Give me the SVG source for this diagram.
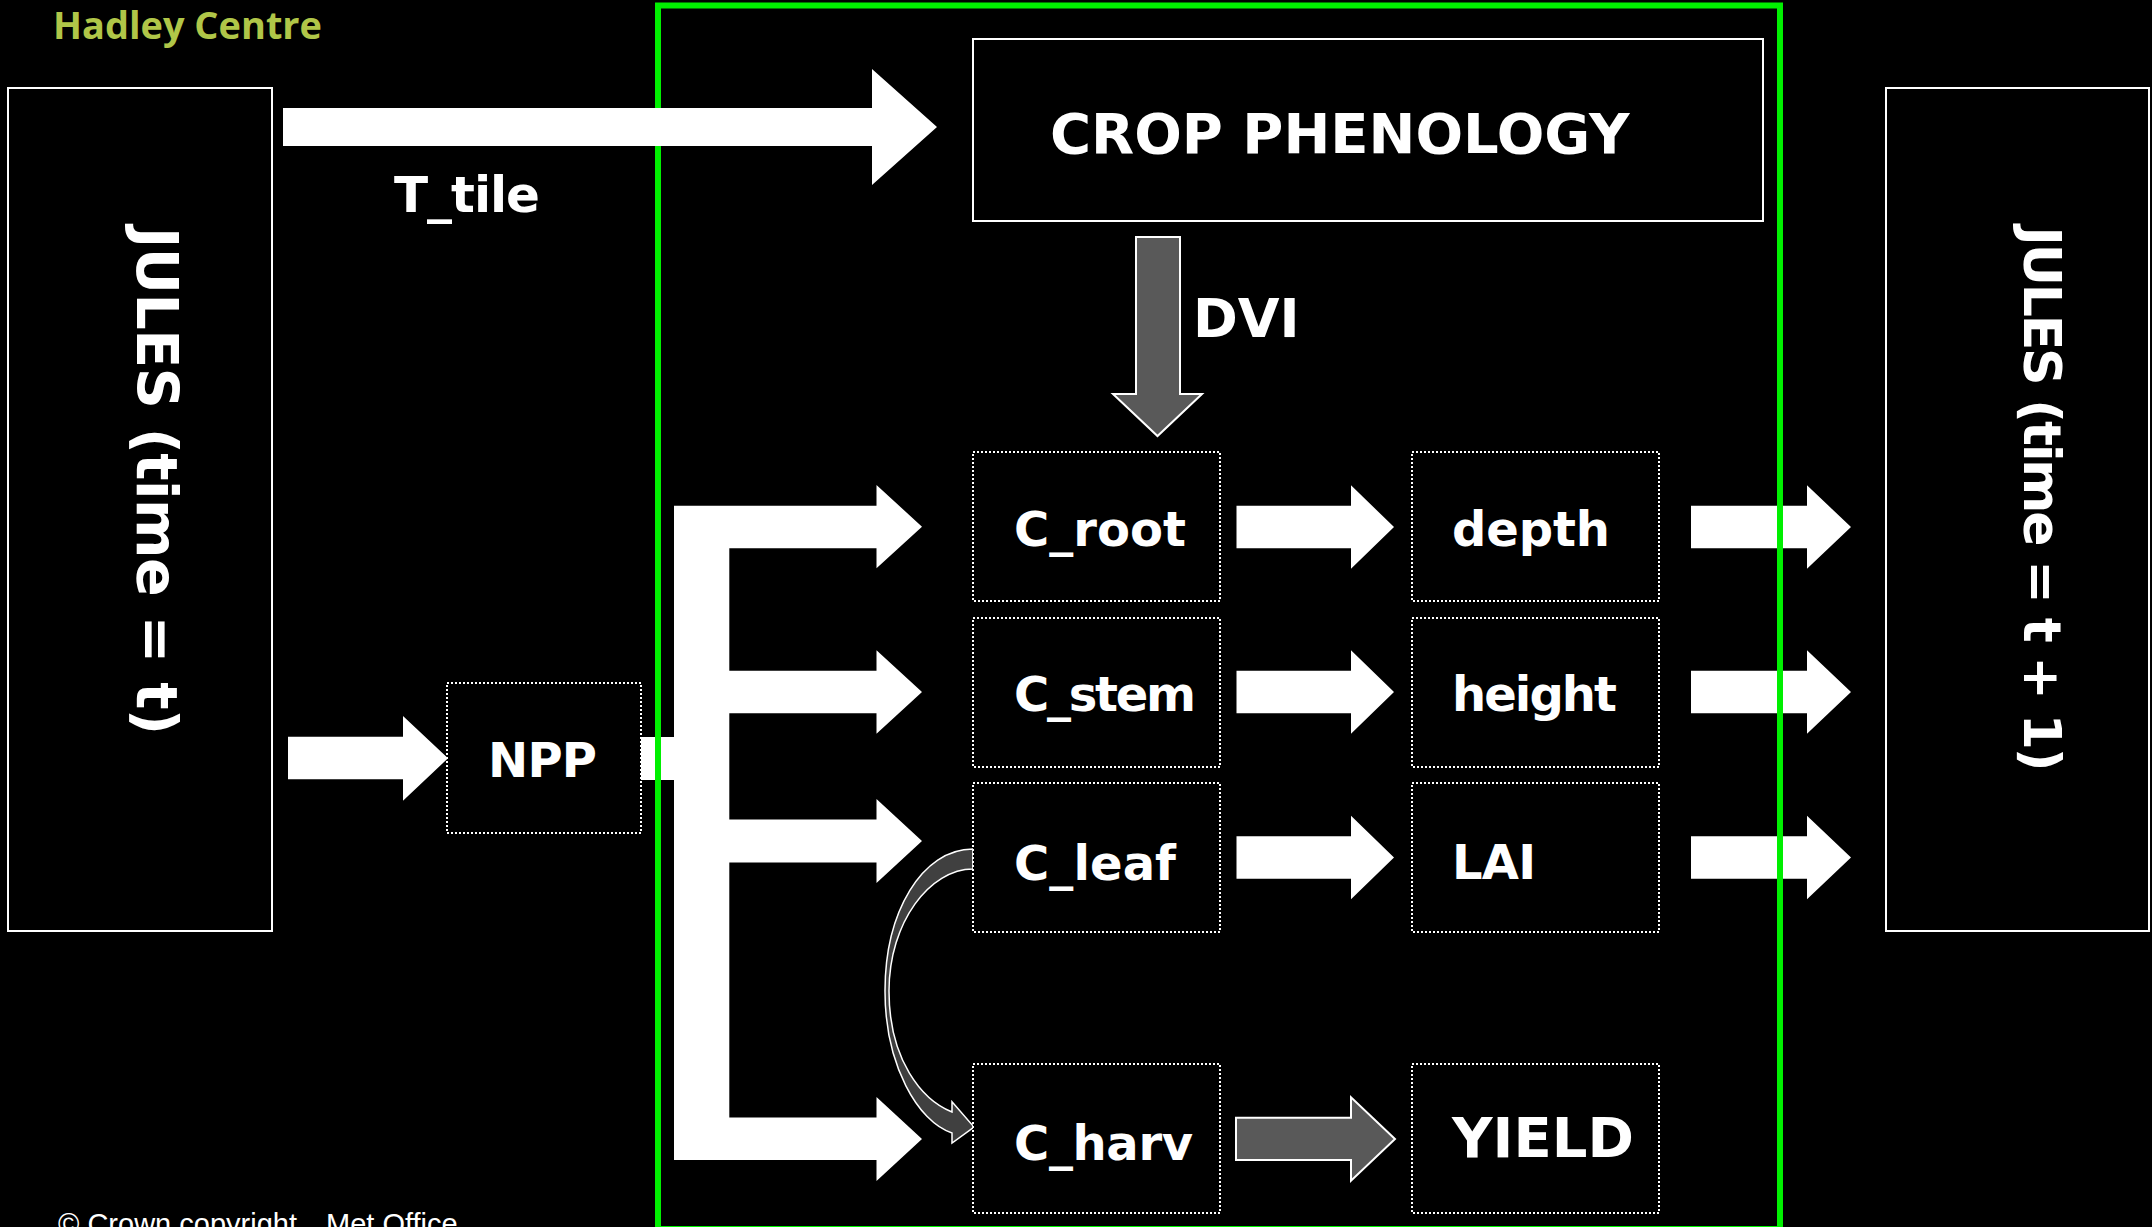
<svg xmlns="http://www.w3.org/2000/svg" width="2152" height="1227" viewBox="0 0 2152 1227">
<style>
.lbl{font-family:"DejaVu Sans","Liberation Sans",sans-serif;font-weight:bold;fill:#ffffff;}
.box{fill:#000000;stroke:#ffffff;stroke-width:2;}
.dot{fill:#000000;stroke:#ffffff;stroke-width:2;stroke-dasharray:2 2;}
.wa{fill:#ffffff;}
.ga{fill:#595959;stroke:#ffffff;stroke-width:2;}
.ca{fill:#404040;stroke:#ffffff;stroke-width:1.5;}
</style>
<rect x="0" y="0" width="2152" height="1227" fill="#000000"/>
<text x="53" y="39" font-family="'Open Sans','Liberation Sans',sans-serif" font-weight="bold" font-size="37" fill="#b0c648" textLength="269" lengthAdjust="spacingAndGlyphs">Hadley Centre</text>
<text x="58" y="1234" font-family="'Liberation Sans',Arial,sans-serif" font-size="29" fill="#ffffff"><tspan x="58">© Crown copyright</tspan><tspan x="326">Met Office</tspan></text>

<g id="jules-t">
<rect class="box" x="8" y="88" width="264" height="843"/>
<text class="lbl" transform="translate(137,481) rotate(90)" x="0" y="0" font-size="57" text-anchor="middle" textLength="508">JULES (time = t)</text>
</g>
<g id="jules-t1">
<rect class="box" x="1886" y="88" width="263" height="843"/>
<text class="lbl" transform="translate(2024,499) rotate(90)" x="0" y="0" font-size="52" text-anchor="middle" textLength="545">JULES (time = t + 1)</text>
</g>

<g id="connectors">
<path class="wa" d="M283,108 H872 V69 L937,127 L872,185 V146 H283 Z"/>
<text class="lbl" x="394" y="211.5" font-size="50" textLength="146">T_tile</text>
<path class="ga" d="M1136,237 H1180 V394 H1202 L1157.5,436 L1113,394 H1136 Z"/>
<text class="lbl" x="1193" y="337" font-size="54">DVI</text>
<path class="wa" d="M288,736.7 H403 V716 L448,758.3 L403,800.7 V779.3 H288 Z"/>
<path class="wa" d="M674,505.7 H876.5 V485 L922,526.7 L876.5,568.3 V548.3 H729.3 V670.7 H876.5 V650.3 L922,692 L876.5,733.7 V713.3 H729.3 V819.5 H876.5 V799.1 L922,841 L876.5,882.9 V862.5 H729.3 V1117.5 H876.5 V1097 L922,1139 L876.5,1181 V1160 H674 V780 H640 V737 H674 Z"/>
<path class="wa" d="M1236.5,505.7 H1351 V485.3 L1394,527 L1351,568.7 V548.3 H1236.5 Z"/>
<path class="wa" d="M1236.5,670.7 H1351 V650.3 L1394,692 L1351,733.7 V713.3 H1236.5 Z"/>
<path class="wa" d="M1236.5,836.2 H1351 V815.8 L1394,857.5 L1351,899.2 V878.8 H1236.5 Z"/>
<path class="ga" d="M1236,1117.7 H1351 V1097.3 L1395,1139 L1351,1180.7 V1160 H1236 Z"/>
<path class="wa" d="M1691,505.7 H1807 V485.3 L1851,527 L1807,568.7 V548.3 H1691 Z"/>
<path class="wa" d="M1691,670.7 H1807 V650.3 L1851,692 L1807,733.7 V713.3 H1691 Z"/>
<path class="wa" d="M1691,836.2 H1807 V815.8 L1851,857.5 L1807,899.2 V878.8 H1691 Z"/>
<path class="ca" d="M973,849 C922,849 885,912 885,991 C885,1065 918,1122 952,1133 L952,1143 L974,1127 L952,1101.7 L952,1112 C922,1100 889,1060 889,991 C889,922 930,869 973,869 Z"/>
</g>

<g id="crop-phenology">
<rect class="box" x="973" y="39" width="790" height="182"/>
<text class="lbl" x="1050" y="153" font-size="56">CROP PHENOLOGY</text>
</g>
<g id="npp">
<rect class="dot" x="447" y="683" width="194" height="150"/>
<text class="lbl" x="488" y="776.7" font-size="48" textLength="109">NPP</text>
</g>
<g id="c-root">
<rect class="dot" x="973" y="452" width="247" height="149"/>
<text class="lbl" x="1014" y="546" font-size="48" textLength="172">C_root</text>
</g>
<g id="c-stem">
<rect class="dot" x="973" y="618" width="247" height="149"/>
<text class="lbl" x="1014" y="710.7" font-size="48" textLength="182">C_stem</text>
</g>
<g id="c-leaf">
<rect class="dot" x="973" y="783" width="247" height="149"/>
<text class="lbl" x="1014" y="880" font-size="48" textLength="162">C_leaf</text>
</g>
<g id="c-harv">
<rect class="dot" x="973" y="1064" width="247" height="149"/>
<text class="lbl" x="1014" y="1160" font-size="48" textLength="179">C_harv</text>
</g>
<g id="depth">
<rect class="dot" x="1412" y="452" width="247" height="149"/>
<text class="lbl" x="1452" y="546" font-size="48" textLength="158">depth</text>
</g>
<g id="height">
<rect class="dot" x="1412" y="618" width="247" height="149"/>
<text class="lbl" x="1452" y="710.7" font-size="48" textLength="165">height</text>
</g>
<g id="lai">
<rect class="dot" x="1412" y="783" width="247" height="149"/>
<text class="lbl" x="1452" y="879.3" font-size="48" textLength="84">LAI</text>
</g>
<g id="yield">
<rect class="dot" x="1412" y="1064" width="247" height="149"/>
<text class="lbl" x="1452" y="1156.7" font-size="56" textLength="182">YIELD</text>
</g>

<g id="crop-model-frame">
<path d="M658,146 V1229 H1780 V5.5 H658 V108" fill="none" stroke="#00f000" stroke-width="6"/>
</g>
</svg>
